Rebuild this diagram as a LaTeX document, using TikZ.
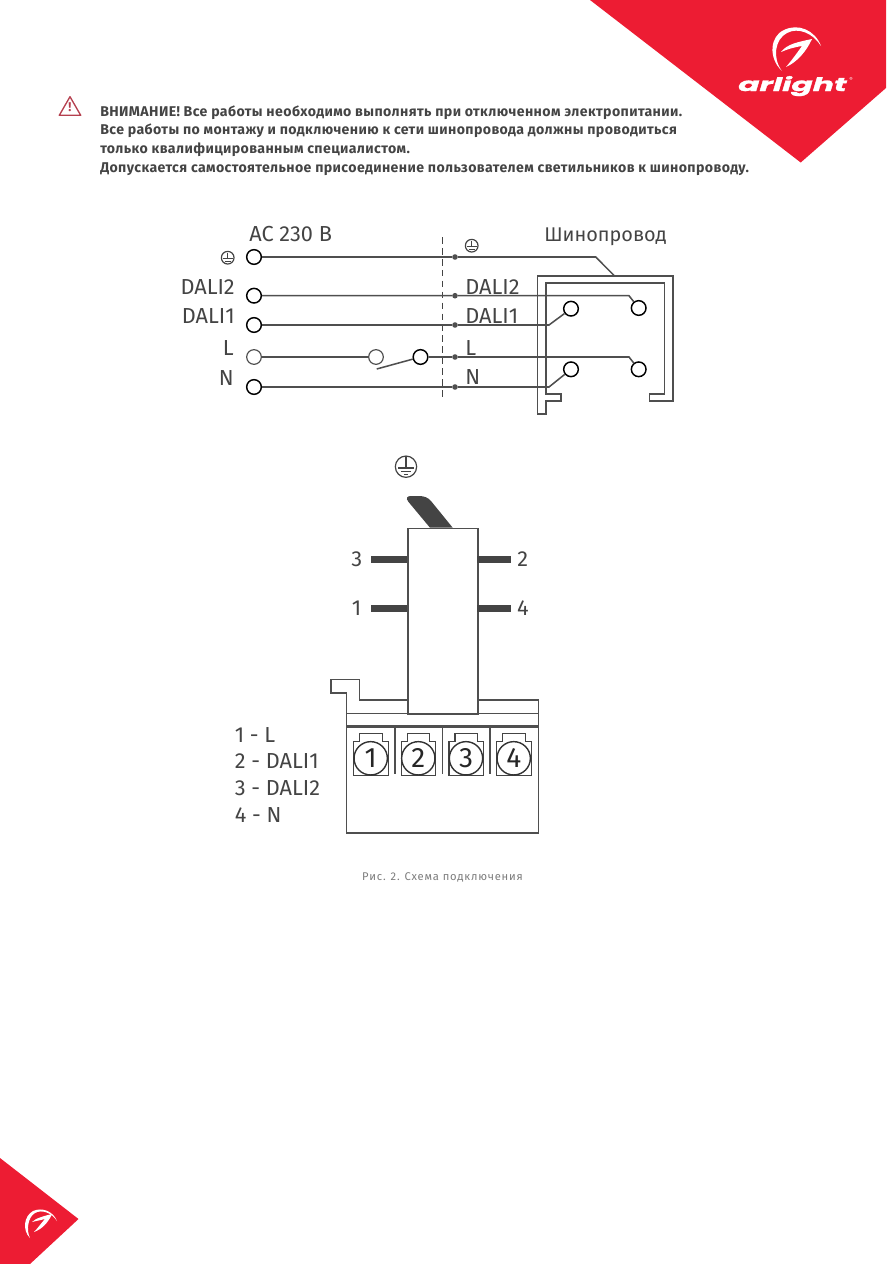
\documentclass[tikz,border=0pt]{standalone}
\usepackage{fontspec}
\setmainfont{Fira Sans}
\newfontfamily\brandfont[FakeBold=1.2]{Poppins}
\definecolor{brandred}{HTML}{ED1C33}
\definecolor{ink}{HTML}{444444}
\definecolor{wire}{HTML}{4F4F4F}
\definecolor{warn}{HTML}{B5404F}
\tikzset{
  wireline/.style={draw=wire,line width=1.15pt},
  railline/.style={draw=wire,line width=1.2pt,line join=miter},
  termblack/.style={circle,draw=black,fill=white,line width=1.1pt,minimum size=11pt,inner sep=0pt},
  termsoft/.style={circle,draw=wire,fill=white,line width=0.9pt,minimum size=11pt,inner sep=0pt},
  junction/.style={circle,fill=wire,minimum size=4.2pt,inner sep=0pt},
  lab/.style={text=ink,font=\fontsize{16.3pt}{17pt}\selectfont,inner sep=0pt},
  warntext/.style={text=ink,font=\bfseries\fontsize{10.6pt}{11pt}\selectfont\addfontfeature{LetterSpace=2.8},inner sep=0pt,anchor=base west},
  pin/.style={fill=ink,draw=none},
  numcirc/.style={circle,draw=black!80,fill=white,line width=1.05pt,minimum size=25pt,inner sep=0pt,text=black!85,font=\fontsize{21pt}{22pt}\selectfont},
}
\newcommand{\gndsmall}[3]{%
  \node[circle,draw=ink,line width=0.9pt,minimum size=9.5pt,inner sep=0pt] (#3) at (#1,#2) {};
  \draw[ink,line width=0.9pt] (#1,#2-5) -- (#1,#2+1) (#1-5,#2+1) -- (#1+5,#2+1) (#1-3,#2+3.5) -- (#1+3,#2+3.5);
}
\newcommand{\terminal}[2]{%
  \draw[ink,line width=1pt] (#1-17,775.7) -- (#1-17,741.7) -- (#1-11,741.7) -- (#1-11,733.3) -- (#1+11.5,733.3) -- (#1+11.5,741.7) -- (#1+17.5,741.7) -- (#1+17.5,775.7) -- cycle;
  \node[numcirc] (num#2) at (#1,758.3) {#2};
}
\begin{document}
\begin{tikzpicture}[x=0.75pt,y=-0.75pt]
\useasboundingbox (0,0) rectangle (886,1264);
% brand corners
\fill[brandred] (590,0) -- (886,0) -- (886,88) -- (800.7,162.5) -- cycle;
\fill[brandred] (0,1158) -- (78.5,1219) -- (30,1264) -- (0,1264) -- cycle;
% top logo
\fill[white] (782,71) .. controls (768,58) and (770,36) .. (784,30) .. controls (798,23) and (815,30) .. (821,46) .. controls (813,33) and (798,27) .. (787,33) .. controls (775,39) and (772,58) .. cycle;
\fill[white] (781,52) .. controls (787,44) and (798,42) .. (812,39) .. controls (806,52) and (797,62) .. (786,67) .. controls (792,60) and (797,53) .. (802,46) .. controls (795,47) and (788,49) .. cycle;
\node[text=white,inner sep=0pt,anchor=base west,font=\brandfont\bfseries\itshape\fontsize{14pt}{15pt}\selectfont] (brand) at (738,91) {\scalebox{1.68}[1]{arlight}};
\node[text=white,inner sep=0pt,font=\fontsize{4pt}{4pt}\selectfont] (reg) at (851,79) {®};
% bottom logo
\fill[white] (30,1238) .. controls (22,1230) and (24,1216) .. (33,1211) .. controls (42,1207) and (53,1211) .. (57,1221) .. controls (52,1213) and (42,1209) .. (35,1213) .. controls (28,1217) and (26,1230) .. cycle;
\fill[white] (32,1222) .. controls (36,1218) and (44,1216) .. (52,1214) .. controls (48,1223) and (42,1229) .. (34,1232) .. controls (38,1228) and (42,1222) .. (45,1219) .. controls (41,1220) and (36,1221) .. cycle;
% warning
\draw[warn,line width=1pt,line join=round] (70,96.7) -- (80.7,115.3) -- (59.3,115.3) -- cycle;
\node[text=warn,inner sep=0pt,font=\bfseries\fontsize{9.5pt}{10pt}\selectfont] (warnmark) at (70,107.5) {!};
\node[warntext] (w1) at (100,116) {ВНИМАНИЕ! Все работы необходимо выполнять при отключенном электропитании.};
\node[warntext] (w2) at (100,134.5) {Все работы по монтажу и подключению к сети шинопровода должны проводиться};
\node[warntext] (w3) at (100,153.5) {только квалифицированным специалистом.};
\node[warntext] (w4) at (100,172.5) {Допускается самостоятельное присоединение пользователем светильников к шинопроводу.};
% wiring diagram
\draw[ink,line width=1.05pt,dash pattern=on 5pt off 3.2pt] (442.7,237) -- (442.7,397);
\node[termblack] (srcG) at (254,257) {};
\node[termblack] (srcD2) at (254,295.7) {};
\node[termblack] (srcD1) at (254,325) {};
\node[termsoft] (srcL) at (254,357) {};
\node[termblack] (srcN) at (254,387) {};
\node[termsoft] (swA) at (376,357) {};
\node[termblack] (swB) at (420.5,357) {};
\node[junction] (jG) at (455,257) {};
\node[junction] (jD2) at (455,295.7) {};
\node[junction] (jD1) at (455,325) {};
\node[junction] (jL) at (455,357) {};
\node[junction] (jN) at (455,387) {};
\coordinate (railtop) at (614.3,275.7);
\coordinate (bendG) at (595.7,257);
\coordinate (bendD2) at (629,295.7);
\coordinate (bendD1) at (549,325);
\coordinate (bendL) at (629,357);
\coordinate (bendN) at (549,387);
\coordinate (levEnd) at (376.7,369);
\path[railline] (537.3,413.7) -- (537.3,275.7) -- (672.7,275.7) -- (672.7,400.7) -- (649.3,400.7) -- (649.3,394) -- (664.3,394) -- (664.3,282.7) -- (545.7,282.7) -- (545.7,394) -- (560.7,394) -- (560.7,400.7) -- (545.7,400.7) -- (545.7,413.7) -- cycle;
\node[termblack] (cD2) at (638.7,308) {};
\node[termblack] (cD1) at (571,308.7) {};
\node[termblack] (cL) at (638.7,369.3) {};
\node[termblack] (cN) at (571,369.3) {};
\draw[wireline] (srcG) -- (jG) -- (bendG) -- (railtop);
\draw[wireline] (srcD2) -- (jD2) -- (bendD2) -- (cD2);
\draw[wireline] (srcD1) -- (jD1) -- (bendD1) -- (cD1);
\draw[wireline] (srcL) -- (swA);
\draw[wireline] (swB) -- (jL) -- (bendL) -- (cL);
\draw[wireline] (srcN) -- (jN) -- (bendN) -- (cN);
\draw[wireline] (levEnd) -- (swB);
\gndsmall{227.7}{257.7}{gndA}
\gndsmall{471.7}{245.7}{gndB}
\node[lab,anchor=west] (ac) at (249,234.5) {AC 230 В};
\node[lab,anchor=east] (lD2) at (235,286.7) {DALI2};
\node[lab,anchor=east] (lD1) at (235,315.7) {DALI1};
\node[lab,anchor=east] (lL) at (234,348) {L};
\node[lab,anchor=east] (lN) at (234,377.7) {N};
\node[lab,anchor=west] (rD2) at (465,287) {DALI2};
\node[lab,anchor=west] (rD1) at (465,316) {DALI1};
\node[lab,anchor=west] (rL) at (465,348) {L};
\node[lab,anchor=west] (rN) at (465,377) {N};
\node[lab,anchor=west,font=\fontsize{14.9pt}{16pt}\selectfont] (rail) at (544,236.5) {Шинопровод};
% module
\node[circle,draw=ink,line width=0.9pt,minimum size=16pt,inner sep=0pt] (gndC) at (406,466.7) {};
\draw[ink,line width=0.9pt] (406,456) -- (406,468) (398,468) -- (414,468) (401,471.5) -- (411,471.5) (404,474.5) -- (408,474.5);
\fill[ink] (430,527.7) -- (408.3,501.7) .. controls (405.5,498) and (407,496) .. (411,496) -- (419,496) .. controls (424,496) and (428,497.5) .. (431,501) -- (452.7,527.7) -- cycle;
\draw[wire,line width=1.2pt] (359.3,700) -- (407.3,700) (477.3,700) -- (538.3,700) -- (538.3,832.7) -- (346.3,832.7) -- (346.3,692.7) -- (330.7,692.7) -- (330.7,679.3) -- (359.3,679.3) -- (359.3,700);
\draw[wire,line width=1.2pt] (346.3,713.3) -- (538.3,713.3);
\draw[wire,line width=1.9pt] (346.3,726.7) -- (538.3,726.7);
\draw[wire,line width=1.2pt] (394.7,726.7) -- (394.7,774) (442.3,726.7) -- (442.3,774) (490,726.7) -- (490,774);
\node[draw=wire,fill=white,line width=1.2pt,inner sep=0pt,minimum width=52.5pt,minimum height=139pt,anchor=north west] (body) at (407.3,527.7) {};
\fill[pin] (371,555.5) rectangle (407,562.5);
\fill[pin] (477.3,555.5) rectangle (510.6,562.5);
\fill[pin] (371,605.3) rectangle (407,612.3);
\fill[pin] (477.3,605.3) rectangle (510.6,612.3);
\node[lab] (p3) at (356.7,559) {3};
\node[lab] (p2) at (522.7,559) {2};
\node[lab] (p1) at (356.7,608) {1};
\node[lab] (p4) at (523,608) {4};
\terminal{370.7}{1}
\terminal{418.3}{2}
\terminal{466}{3}
\terminal{513.7}{4}
\node[lab,anchor=west] (k1) at (234.5,735) {1 - L};
\node[lab,anchor=west] (k2) at (234.5,761.5) {2 - DALI1};
\node[lab,anchor=west] (k3) at (234.5,788) {3 - DALI2};
\node[lab,anchor=west] (k4) at (234.5,815) {4 - N};
\node[text=ink!70,inner sep=0pt,font=\fontsize{8.4pt}{9pt}\selectfont\addfontfeature{LetterSpace=7}] (cap) at (442.5,877) {Рис. 2. Схема подключения};
\end{tikzpicture}
\end{document}
